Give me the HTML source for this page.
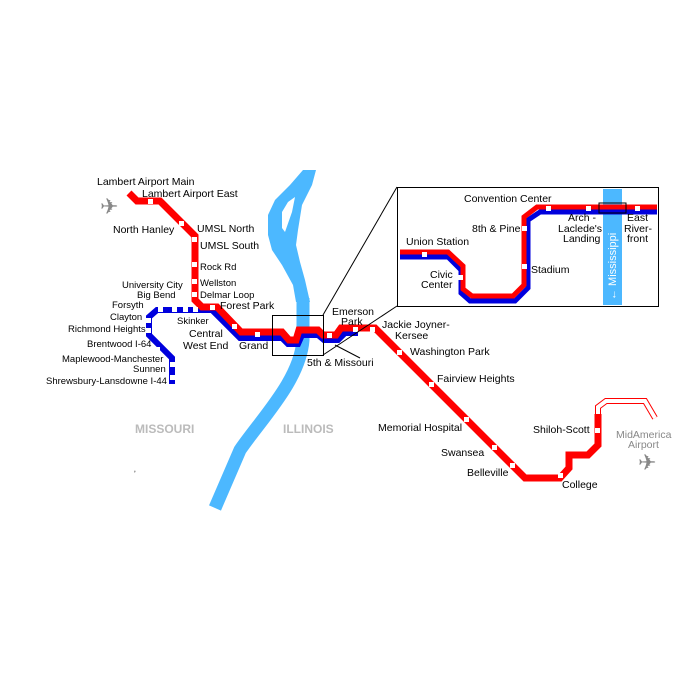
<!DOCTYPE html>
<html><head><meta charset="utf-8"><style>
body{margin:0;background:#fff}
svg{display:block}
text{font-family:"Liberation Sans",Arial,sans-serif;font-size:10.5px;fill:#000}
</style></head><body>
<svg width="700" height="700" viewBox="0 0 700 700">
<!-- river -->
<path fill="#4cb8ff" fill-rule="evenodd" d="M303,170 L316,170 L312,185 L302,205 L298,230 L296,245 L300,262 L305,280 L310,302 L296,302 L293,285 L282,265 L272,250 L268,235 L268,215 L275,200 L290,185 Z M295,197 L292,212 L285,232 L282,228 L282,212 L288,202 Z"/>
<path d="M303,298 L303,340 C300,380 262,418 240,450 L215,508" fill="none" stroke="#4cb8ff" stroke-width="13"/>
<!-- labels states -->
<text x="135" y="433" style="font-size:12px;font-weight:bold;fill:#bbb">MISSOURI</text>
<text x="283" y="433" style="font-size:12px;font-weight:bold;fill:#bbb">ILLINOIS</text>
<!-- blue line -->
<g fill="none" stroke="#0000dd" stroke-width="6" stroke-linejoin="miter">
<path d="M172,384 L172,358 L149,335 L149,317 L157,310 L212,310 L240,338 L282,338 L288,344 L298,344 L302,335 L318,335 L324,340 L338,340 L345,333 L358,333"/>
</g>
<!-- red line -->
<g fill="none" stroke="#ff0000" stroke-width="7" stroke-linejoin="miter">
<path d="M129,193 L137,201 L160,201 L195,236 L195,300 L202,307 L217,307 L241,332 L282,332 L289,340 L296,340 L299,330 L318,330 L323,335 L336,335 L341,328 L375,328 L525,478 L560,478 L569,468 L569,455 L588,455 L598,445 L598,414"/>
</g>
<path d="M598,414 L598,407 L606,401 L645,401 L655,418" fill="none" stroke="#ff0000" stroke-width="6"/>
<path d="M598,414 L598,407 L606,401 L645,401 L655,418" fill="none" stroke="#fff" stroke-width="4"/>
<!-- stations -->
<g fill="#fff">
<rect x="148" y="199" width="5" height="5"/><rect x="179" y="221" width="5" height="5"/>
<rect x="192" y="237" width="5" height="5"/><rect x="192" y="262" width="5" height="5"/>
<rect x="192" y="279" width="5" height="5"/><rect x="192" y="292" width="5" height="5"/>
<rect x="210" y="305" width="5" height="5"/><rect x="232" y="324" width="5" height="5"/>
<rect x="255" y="332" width="5" height="5"/><rect x="327" y="333" width="5" height="5"/>
<rect x="353" y="327" width="5" height="5"/><rect x="370" y="327" width="5" height="5"/>
<rect x="397" y="350" width="5" height="5"/><rect x="429" y="382" width="5" height="5"/>
<rect x="464" y="417" width="5" height="5"/><rect x="492" y="445" width="5" height="5"/>
<rect x="510" y="463" width="5" height="5"/><rect x="558" y="473" width="5" height="5"/>
<rect x="595" y="428" width="5" height="5"/>
<rect x="170" y="362" width="5" height="5"/><rect x="170" y="375" width="5" height="5"/>
<rect x="155" y="347" width="5" height="5"/><rect x="146" y="318" width="5" height="5"/>
<rect x="146" y="328" width="5" height="5"/><rect x="158" y="307" width="5" height="5"/>
<rect x="172" y="307" width="5" height="5"/><rect x="183" y="307" width="5" height="5"/>
<rect x="193" y="307" width="5" height="5"/>
</g>
<!-- zoom box -->
<rect x="272.5" y="315.5" width="51" height="40" fill="none" stroke="#000"/>
<line x1="323" y1="315" x2="397" y2="187" stroke="#000"/>
<line x1="323" y1="355" x2="397" y2="306" stroke="#000"/>
<line x1="335" y1="345" x2="360" y2="358" stroke="#000"/>
<!-- inset -->
<rect x="397.5" y="187.5" width="261" height="119" fill="#fff" stroke="#000"/>
<rect x="603" y="189" width="19" height="116" fill="#4cb8ff"/>
<path d="M400,257 L448,257 L461,270 L461,293 L470,301 L515,301 L528,288 L528,220 L540,212 L657,212" fill="none" stroke="#0000dd" stroke-width="5"/>
<path d="M400,252 L448,252 L463,266 L463,289 L472,296 L513,296 L524,285 L524,217 L537,207 L657,207" fill="none" stroke="#ff0000" stroke-width="5"/>
<g fill="#fff">
<rect x="422" y="252" width="5" height="5"/><rect x="458" y="275" width="5" height="5"/>
<rect x="522" y="226" width="5" height="5"/><rect x="522" y="264" width="5" height="5"/>
<rect x="546" y="206" width="5" height="5"/><rect x="586" y="206" width="5" height="5"/>
<rect x="635" y="206" width="5" height="5"/>
</g>
<rect x="599" y="203" width="27" height="10" fill="none" stroke="#000"/>
<text transform="translate(616,300) rotate(-90)" style="fill:#fff;font-size:11px">← Mississippi</text>
<g style="font-size:10.5px">
<text x="464" y="202">Convention Center</text>
<text x="472" y="232">8th &amp; Pine</text>
<text x="406" y="245">Union Station</text>
<text x="430" y="278">Civic</text><text x="421" y="288">Center</text>
<text x="531" y="273">Stadium</text>
<text x="568" y="221">Arch -</text><text x="558" y="232">Laclede's</text><text x="563" y="242">Landing</text>
<text x="627" y="221">East</text><text x="624" y="232">River-</text><text x="627" y="242">front</text>
</g>
<!-- labels -->
<text x="97" y="185">Lambert Airport Main</text>
<text x="142" y="197">Lambert Airport East</text>
<text x="113" y="233">North Hanley</text>
<text x="197" y="232">UMSL North</text>
<text x="200" y="249">UMSL South</text>
<text x="200" y="270" style="font-size:9.5px">Rock Rd</text>
<text x="200" y="286" style="font-size:9.5px">Wellston</text>
<text x="200" y="298" style="font-size:9.5px">Delmar Loop</text>
<text x="220" y="309">Forest Park</text>
<text x="122" y="288" style="font-size:9.5px">University City</text>
<text x="137" y="298" style="font-size:9.5px">Big Bend</text>
<text x="112" y="308" style="font-size:9.5px">Forsyth</text>
<text x="110" y="320" style="font-size:9.5px">Clayton</text>
<text x="68" y="332" style="font-size:9.5px">Richmond Heights</text>
<text x="87" y="347" style="font-size:9.5px">Brentwood I-64</text>
<text x="62" y="362" style="font-size:9.5px">Maplewood-Manchester</text>
<text x="133" y="372" style="font-size:9.5px">Sunnen</text>
<text x="46" y="384" style="font-size:9.5px">Shrewsbury-Lansdowne I-44</text>
<text x="177" y="324" style="font-size:9.5px">Skinker</text>
<text x="189" y="337">Central</text>
<text x="183" y="349">West End</text>
<text x="239" y="349">Grand</text>
<text x="332" y="315">Emerson</text>
<text x="341" y="325">Park</text>
<text x="307" y="366">5th &amp; Missouri</text>
<text x="382" y="328">Jackie Joyner-</text>
<text x="395" y="339">Kersee</text>
<text x="410" y="355">Washington Park</text>
<text x="437" y="382">Fairview Heights</text>
<text x="378" y="431">Memorial Hospital</text>
<text x="441" y="456">Swansea</text>
<text x="467" y="476">Belleville</text>
<text x="562" y="488">College</text>
<text x="533" y="433">Shiloh-Scott</text>
<text x="616" y="438" style="fill:#888">MidAmerica</text>
<text x="628" y="448" style="fill:#888">Airport</text>
<text x="100" y="214" style="font-size:22px;fill:#888">✈</text>
<text x="638" y="470" style="font-size:22px;fill:#888">✈</text>
<text x="134" y="477" style="font-size:8px">ʼ</text>
</svg>
</body></html>
